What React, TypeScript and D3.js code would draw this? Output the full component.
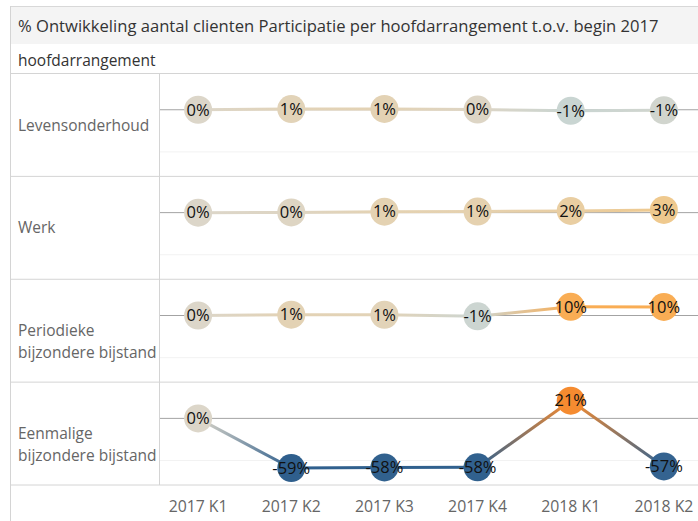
import * as d3 from 'd3';

const quarters = ['2017 K1', '2017 K2', '2017 K3', '2017 K4', '2018 K1', '2018 K2'];
const categories = ['Levensonderhoud', 'Werk', 'Periodieke bijzondere bijstand', 'Eenmalige bijzondere bijstand'];
const categoryLines = [['Levensonderhoud'], ['Werk'], ['Periodieke', 'bijzondere bijstand'], ['Eenmalige', 'bijzondere bijstand']];

const levensonderhoud = [0, 0.8, 1.0, 0.2, -1.2, -0.7];
const werk = [0, 0.3, 1.1, 1.3, 2.0, 3.2];
const periodiek = [0, 1.0, 0.8, -1.0, 10.3, 10.2];
const eenmalig = [0, -58.9, -58.2, -58.0, 21.0, -57.0];
const series = [levensonderhoud, werk, periodiek, eenmalig];

const colorStops = [-60, -1.2, 0, 1, 3, 10, 21];
const colorRange = ['#2c5d8c', '#c9d5d2', '#dcd6c9', '#e3d2b4', '#efca90', '#f9ae55', '#f58b30'];

const W = 698;
const H = 521;
const FONT = '"Open Sans", sans-serif';

export default function App() {
  const left = 11;
  const headerRight = 159;
  const plotRight = 703;

  const x = d3.scalePoint<string>().domain(quarters).range([headerRight, plotRight]).padding(0.42);
  const rows = d3.scaleBand<string>().domain(categories).range([73.5, 485]).padding(0);
  const color = d3.scaleLinear<string>().domain(colorStops).range(colorRange).interpolate(d3.interpolateRgb).clamp(true);

  const yFor = (cat: string) => {
    const top = rows(cat)!;
    return d3.scaleLinear().domain([-79, 43]).range([top + rows.bandwidth(), top]);
  };

  const fmt = (v: number) => `${Math.round(v) === 0 ? 0 : Math.round(v)}%`;

  return (
    <svg width={W} height={H} style={{ position: 'absolute', left: 0, top: 0 }} fontFamily={FONT}>
      <rect x={0} y={0} width={W} height={H} fill="#fff" />
      {/* title band */}
      <rect x={10} y={6} width={W - 10} height={38} fill="#f4f4f4" />
      <line x1={10} x2={W} y1={6.5} y2={6.5} stroke="#d8d8d8" />
      <line x1={10.5} x2={10.5} y1={6} y2={H} stroke="#d4d4d4" />
      <text x={18} y={32} fontSize={16.6} fill="#333">
        % Ontwikkeling aantal clienten Participatie per hoofdarrangement t.o.v. begin 2017
      </text>
      <text x={18} y={66} fontSize={15.5} fill="#333">hoofdarrangement</text>

      <defs>
        {series.map((vals, ci) => {
          const y = yFor(categories[ci]);
          return vals.slice(1).map((v, i) => (
            <linearGradient key={`g${ci}-${i}`} id={`g${ci}-${i}`} gradientUnits="userSpaceOnUse"
              x1={x(quarters[i])!} y1={y(vals[i])} x2={x(quarters[i + 1])!} y2={y(v)}>
              <stop offset="0%" stopColor={color(vals[i])} />
              <stop offset="100%" stopColor={color(v)} />
            </linearGradient>
          ));
        })}
      </defs>

      {categories.map((cat, ci) => {
        const top = rows(cat)!;
        const y = yFor(cat);
        const vals = series[ci];
        return (
          <g key={cat}>
            <line x1={left} x2={W} y1={top} y2={top} stroke="#d4d4d4" />
            <line x1={headerRight} x2={W} y1={y(-50)} y2={y(-50)} stroke="#f2f2f2" />
            <line x1={headerRight} x2={W} y1={y(0)} y2={y(0)} stroke="#a3a3a3" />
            {categoryLines[ci].map((t, li) => (
              <text key={t} x={18} y={top + 57 + li * 22} fontSize={15.5} fill="#666">{t}</text>
            ))}
            {vals.slice(1).map((v, i) => (
              <line key={i} x1={x(quarters[i])!} y1={y(vals[i])} x2={x(quarters[i + 1])!} y2={y(v)}
                stroke={`url(#g${ci}-${i})`} strokeWidth={3} />
            ))}
            {vals.map((v, i) => (
              <circle key={i} cx={x(quarters[i])!} cy={y(v)} r={14} fill={color(v)} />
            ))}
            {vals.map((v, i) => (
              <text key={`t${i}`} x={x(quarters[i])!} y={y(v)} dy="0.35em" textAnchor="middle" fontSize={16.5} fill="#111">
                {fmt(v)}
              </text>
            ))}
          </g>
        );
      })}
      <line x1={left} x2={W} y1={485} y2={485} stroke="#d4d4d4" />
      <line x1={headerRight + 0.5} x2={headerRight + 0.5} y1={73.5} y2={485} stroke="#d4d4d4" />

      {quarters.map(q => (
        <text key={q} x={x(q)!} y={512} textAnchor="middle" fontSize={15.8} fill="#666">{q}</text>
      ))}
    </svg>
  );
}
